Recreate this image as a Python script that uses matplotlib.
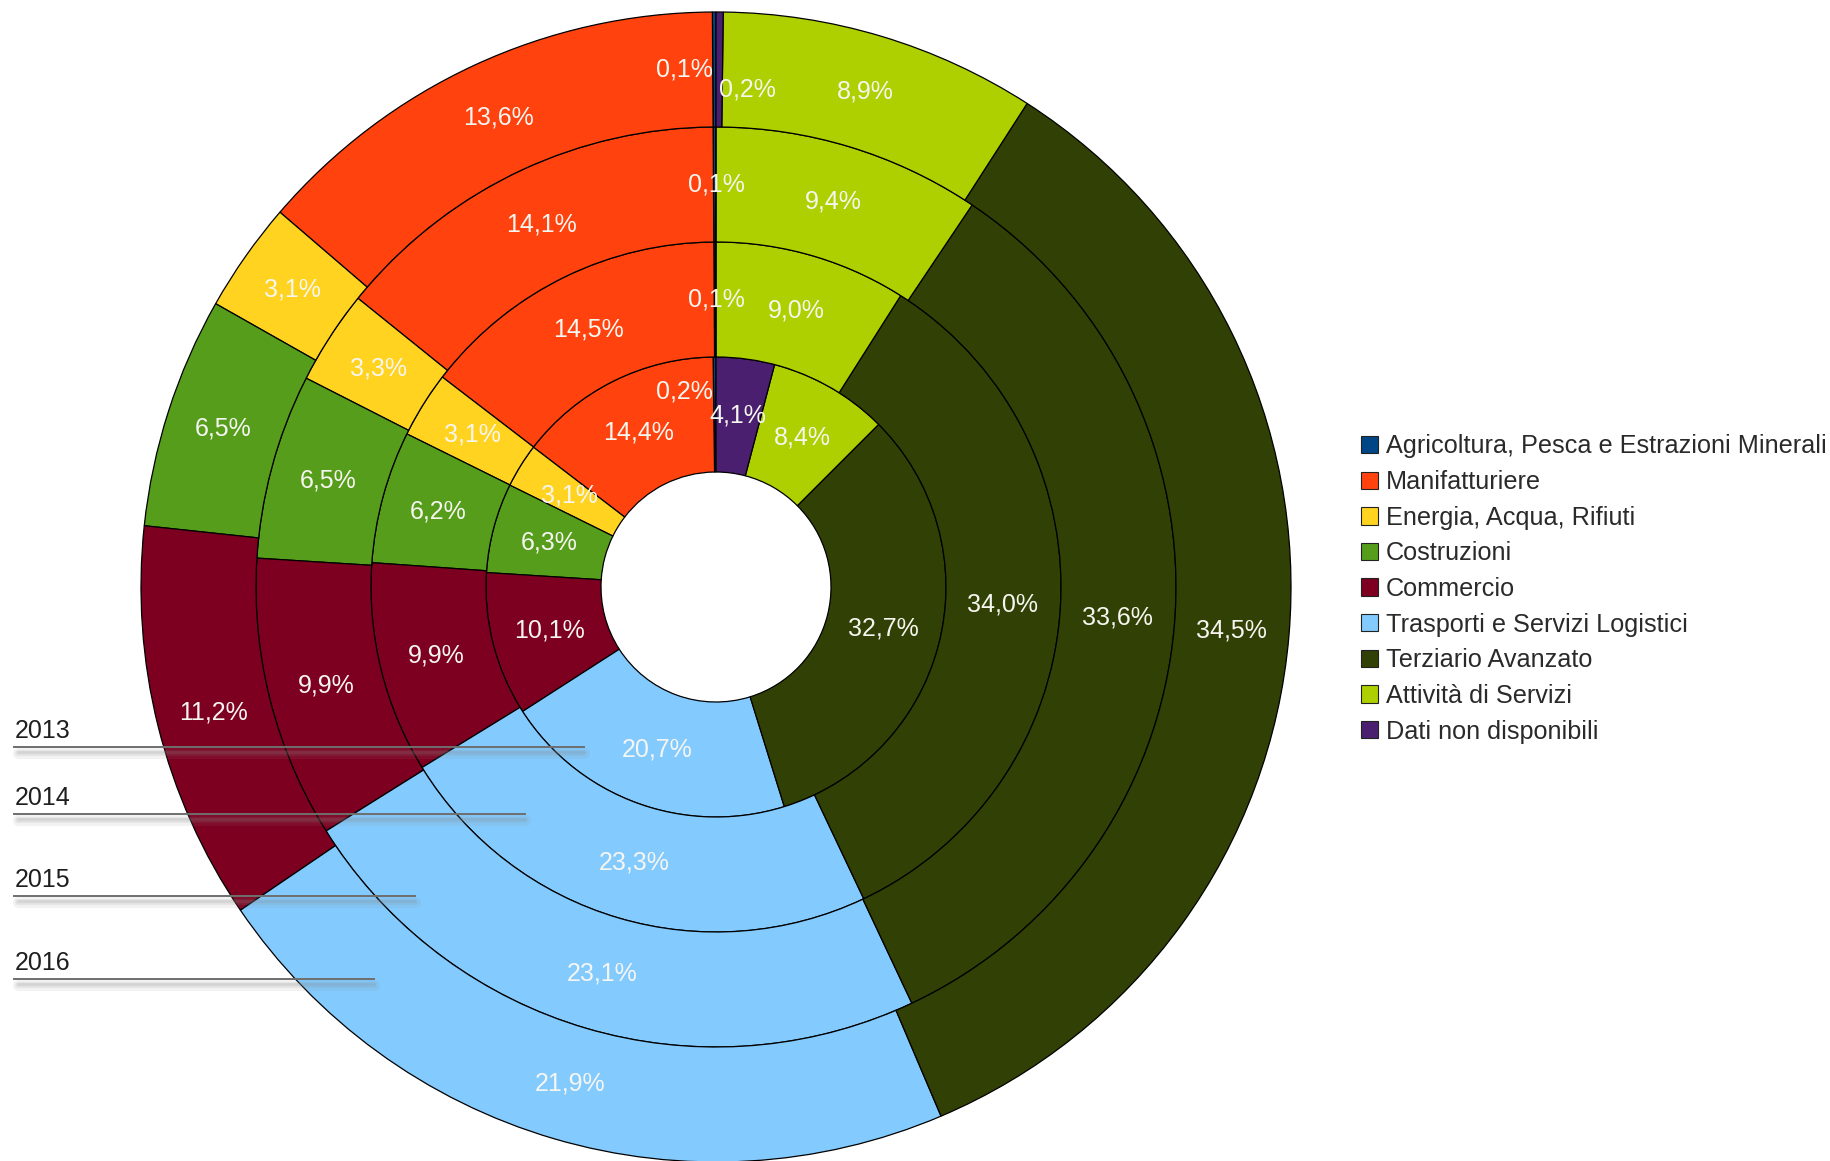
import matplotlib.pyplot as plt
import numpy as np
from matplotlib.patches import Patch
from matplotlib.lines import Line2D

plt.rcParams['font.family'] = ['Liberation Sans', 'DejaVu Sans']

categorie = ["Agricoltura, Pesca e Estrazioni Minerali", "Manifatturiere",
             "Energia, Acqua, Rifiuti", "Costruzioni", "Commercio",
             "Trasporti e Servizi Logistici", "Terziario Avanzato",
             "Attività di Servizi", "Dati non disponibili"]
colori = ["#004586", "#ff420e", "#ffd320", "#579d1c", "#7e0021",
          "#83caff", "#314004", "#aecf00", "#4b1f6f"]

anni = ["2013", "2014", "2015", "2016"]
v2013 = [0.2, 14.4, 3.1, 6.3, 10.1, 20.7, 32.7, 8.4, 4.1]
v2014 = [0.1, 14.5, 3.1, 6.2, 9.9, 23.3, 34.0, 9.0, 0.0]
v2015 = [0.1, 14.1, 3.3, 6.5, 9.9, 23.1, 33.6, 9.4, 0.0]
v2016 = [0.1, 13.6, 3.1, 6.5, 11.2, 21.9, 34.5, 8.9, 0.2]
valori = [v2013, v2014, v2015, v2016]

fig = plt.figure(figsize=(18.31, 11.61), dpi=100)
cx, cy, R = 716, 587, 575
ax = fig.add_axes([(cx - R) / 1831, (1161 - cy - R) / 1161, 2 * R / 1831, 2 * R / 1161])

larghezza = 0.2
for i, vals in enumerate(valori):
    r = 0.4 + i * larghezza
    wedges, _ = ax.pie(vals, radius=r, colors=colori, startangle=90,
                       counterclock=True,
                       wedgeprops=dict(width=larghezza, edgecolor="black", linewidth=0.9))
    rm = r - larghezza / 2
    for j, (w, v) in enumerate(zip(wedges, vals)):
        if v == 0:
            continue
        ang = np.deg2rad((w.theta1 + w.theta2) / 2)
        x, y = rm * np.cos(ang), rm * np.sin(ang)
        ha = "center"
        if v < 1:
            # fette piccole ai lati della linea verticale
            altro = vals[-1] if j == 0 else vals[0]
            if altro > 0:
                ha = "right" if j == 0 else "left"
                x = -0.005 if j == 0 else 0.005
                y = rm if j == 0 else rm - 0.035
                if i == 0:
                    y = rm + 0.04
            else:
                x = 0.0
        ax.text(x, y, f"{v:.1f}%".replace(".", ","), ha=ha, va="center",
                color="#f6f6f0", fontsize=18)

ax.set_xlim(-1, 1)
ax.set_ylim(-1, 1)
ax.axis("off")

# etichette degli anni con linee
pos_y = [747, 814, 896, 979]
fine_x = [584, 525, 415, 374]
for anno, yy, xx in zip(anni, pos_y, fine_x):
    yf = 1 - yy / 1161
    for off, lw, a in [(6, 8, 0.10), (6, 4, 0.15), (5, 2, 0.15)]:
        fig.add_artist(Line2D([18 / 1831, xx / 1831], [yf - off / 1161, yf - off / 1161],
                              color="#888888", linewidth=lw, alpha=a,
                              solid_capstyle="round"))
    fig.add_artist(Line2D([14 / 1831, xx / 1831], [yf, yf],
                          color="#6e6e6e", linewidth=1.4))
    fig.text(15 / 1831, yf + 4 / 1161, anno, ha="left", va="bottom",
             fontsize=18, color="#1e1e1e")

handles = [Patch(facecolor=c, edgecolor="#222222", linewidth=0.8) for c in colori]
fig.legend(handles, categorie, loc="center left",
           bbox_to_anchor=(1361 / 1831, 1 - 589 / 1161), frameon=False,
           fontsize=18.2, labelspacing=0.46, handlelength=0.68, handleheight=0.68,
           handletextpad=0.3, borderpad=0, borderaxespad=0, labelcolor="#2a2a2a")

fig.savefig("out.png", dpi=100, facecolor="white")
